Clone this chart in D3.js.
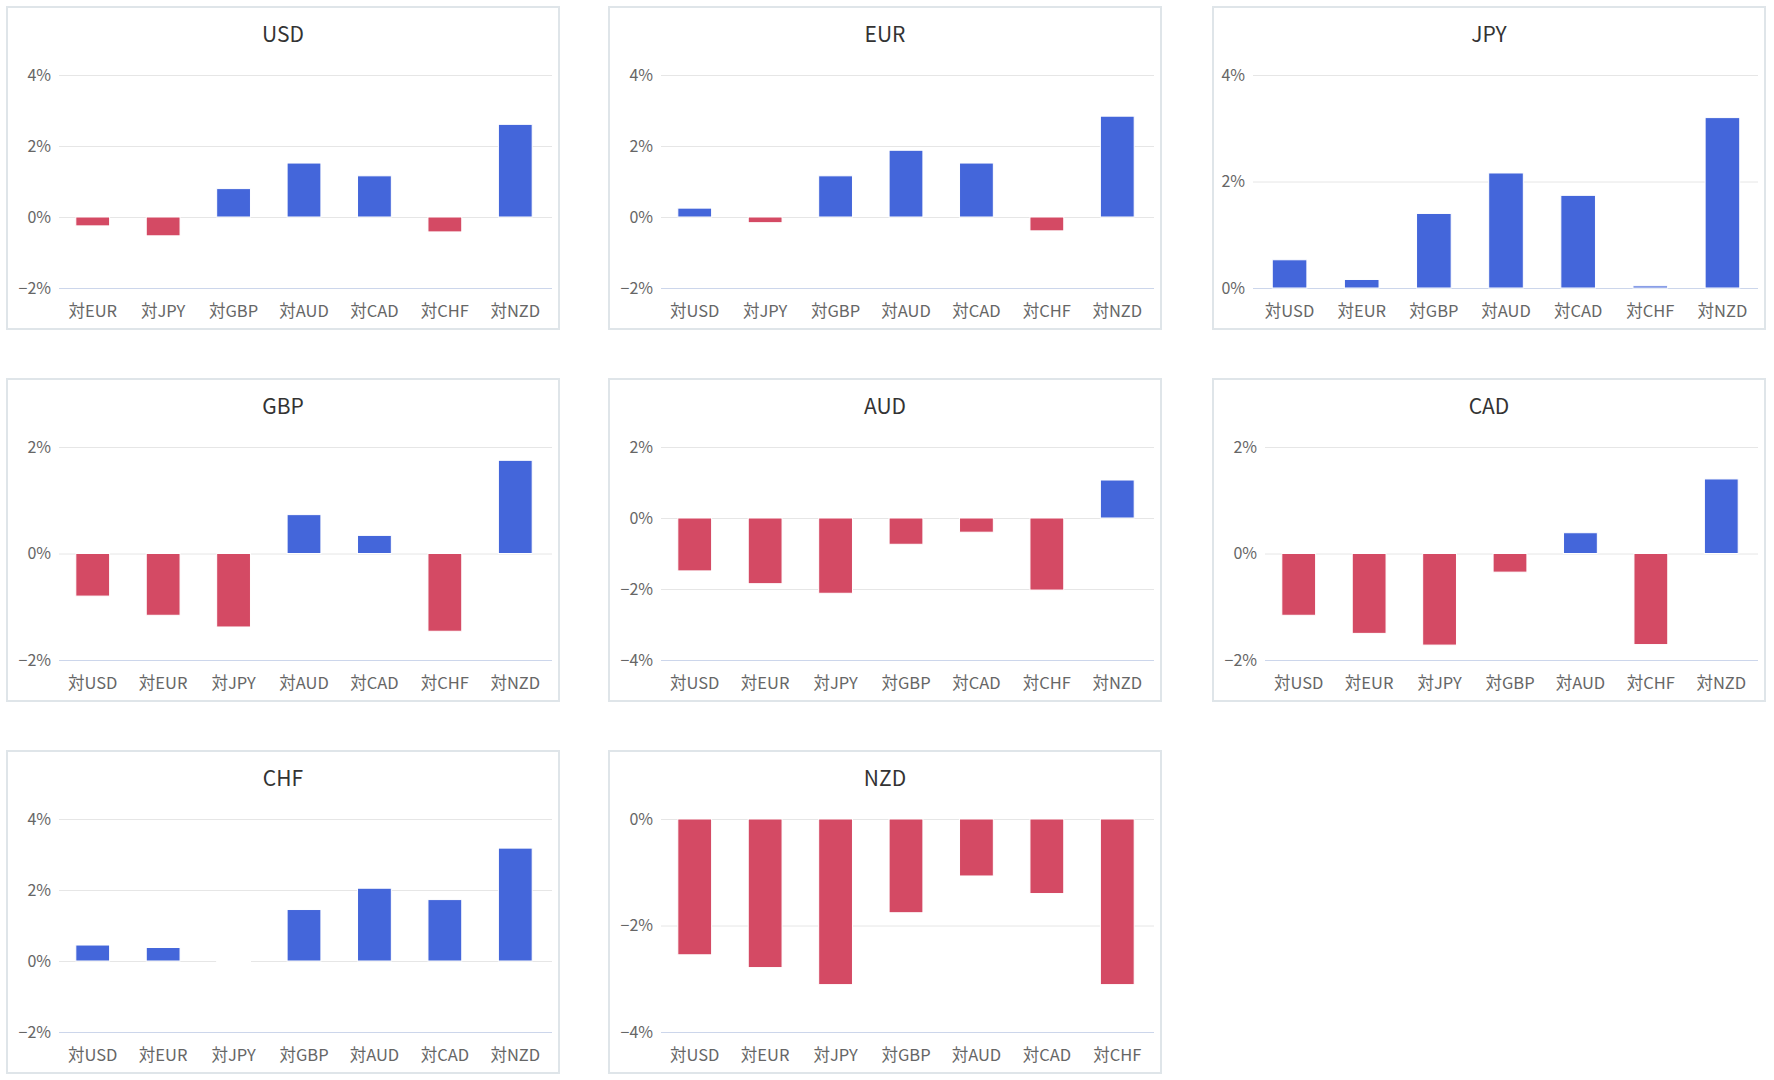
<!DOCTYPE html>
<html>
<head>
<meta charset="utf-8">
<script src="https://cdn.jsdelivr.net/npm/d3@7"></script>
<style>
  html, body { margin: 0; padding: 0; background: #ffffff; }
  svg { display: block; }
  text { font-family: "Noto Sans CJK JP", "Noto Sans", sans-serif; }
</style>
</head>
<body>
<svg id="chart" width="1774" height="1080"></svg>
<script>
// ---------- data ----------
const panelTitles = ["USD", "EUR", "JPY", "GBP", "AUD", "CAD", "CHF", "NZD"];

const usdCats = ["対EUR", "対JPY", "対GBP", "対AUD", "対CAD", "対CHF", "対NZD"];
const usdVals = [-0.25, -0.53, 0.80, 1.52, 1.16, -0.42, 2.61];
const usdTicks = [-2, 0, 2, 4];

const eurCats = ["対USD", "対JPY", "対GBP", "対AUD", "対CAD", "対CHF", "対NZD"];
const eurVals = [0.25, -0.16, 1.16, 1.88, 1.52, -0.39, 2.84];
const eurTicks = [-2, 0, 2, 4];

const jpyCats = ["対USD", "対EUR", "対GBP", "対AUD", "対CAD", "対CHF", "対NZD"];
const jpyVals = [0.53, 0.16, 1.40, 2.16, 1.74, 0.04, 3.20];
const jpyTicks = [0, 2, 4];

const gbpCats = ["対USD", "対EUR", "対JPY", "対AUD", "対CAD", "対CHF", "対NZD"];
const gbpVals = [-0.80, -1.16, -1.38, 0.73, 0.34, -1.46, 1.75];
const gbpTicks = [-2, 0, 2];

const audCats = ["対USD", "対EUR", "対JPY", "対GBP", "対CAD", "対CHF", "対NZD"];
const audVals = [-1.49, -1.85, -2.12, -0.74, -0.40, -2.03, 1.07];
const audTicks = [-4, -2, 0, 2];

const cadCats = ["対USD", "対EUR", "対JPY", "対GBP", "対AUD", "対CHF", "対NZD"];
const cadVals = [-1.16, -1.50, -1.72, -0.35, 0.39, -1.71, 1.40];
const cadTicks = [-2, 0, 2];

const chfCats = ["対USD", "対EUR", "対JPY", "対GBP", "対AUD", "対CAD", "対NZD"];
const chfVals = [0.45, 0.38, 0, 1.45, 2.05, 1.73, 3.18];
const chfTicks = [-2, 0, 2, 4];

const nzdCats = ["対USD", "対EUR", "対JPY", "対GBP", "対AUD", "対CAD", "対CHF"];
const nzdVals = [-2.55, -2.79, -3.11, -1.76, -1.07, -1.40, -3.11];
const nzdTicks = [-4, -2, 0];

const panels = [
  { title: panelTitles[0], cats: usdCats, vals: usdVals, ticks: usdTicks },
  { title: panelTitles[1], cats: eurCats, vals: eurVals, ticks: eurTicks },
  { title: panelTitles[2], cats: jpyCats, vals: jpyVals, ticks: jpyTicks },
  { title: panelTitles[3], cats: gbpCats, vals: gbpVals, ticks: gbpTicks },
  { title: panelTitles[4], cats: audCats, vals: audVals, ticks: audTicks },
  { title: panelTitles[5], cats: cadCats, vals: cadVals, ticks: cadTicks },
  { title: panelTitles[6], cats: chfCats, vals: chfVals, ticks: chfTicks },
  { title: panelTitles[7], cats: nzdCats, vals: nzdVals, ticks: nzdTicks }
];

// ---------- layout ----------
const colX = [7, 609, 1213];
const rowY = [7, 379, 751];
const panelW = 552, panelH = 322;
const plotR = panelW - 7, plotT = 68, plotB = 281;

const POS = "#4466DA", NEG = "#D44A64";

const svg = d3.select("#chart");
svg.append("rect").attr("width", 1774).attr("height", 1080).attr("fill", "#ffffff");

const fmt = d => (d < 0 ? "\u2212" : "") + Math.abs(d) + "%";

panels.forEach((p, i) => {
  const gx = colX[i % 3], gy = rowY[Math.floor(i / 3)];
  const g = svg.append("g").attr("transform", `translate(${gx},${gy})`);
  const hasNeg = d3.min(p.ticks) < 0;
  const plotL = hasNeg ? 52 : 40;
  const shift = hasNeg ? -1.5 : 0.5;

  g.append("rect")
    .attr("x", 0).attr("y", 0).attr("width", panelW).attr("height", panelH)
    .attr("fill", "#ffffff").attr("stroke", "#dfe5e9").attr("stroke-width", 2);

  g.append("text")
    .attr("x", panelW / 2).attr("y", 34.5)
    .attr("text-anchor", "middle")
    .attr("font-size", 21).attr("fill", "#333333")
    .text(p.title);

  const x = d3.scaleBand().domain(p.cats).range([plotL + shift, plotR + shift])
    .paddingInner(0.52).paddingOuter(0.26);
  const y = d3.scaleLinear().domain(d3.extent(p.ticks)).range([plotB, plotT]);

  // y axis with gridlines
  const yAxis = g.append("g").attr("transform", `translate(${plotL},0)`)
    .call(d3.axisLeft(y).tickValues(p.ticks).tickFormat(fmt)
      .tickSizeInner(-(plotR - plotL)).tickSizeOuter(0).tickPadding(8));
  yAxis.select(".domain").remove();
  yAxis.selectAll(".tick line").attr("stroke", "#e6e6e6").attr("stroke-width", 1);
  yAxis.selectAll(".tick text").attr("font-size", 16).attr("fill", "#666666")
    .attr("font-family", "\"Noto Sans CJK JP\", sans-serif");

  // bottom axis line
  g.append("line")
    .attr("x1", plotL).attr("x2", plotR)
    .attr("y1", plotB + 0.5).attr("y2", plotB + 0.5)
    .attr("stroke", "#ccd6eb").attr("stroke-width", 1);

  // bars
  g.append("g").selectAll("rect").data(p.vals).join("rect")
    .attr("x", (d, j) => x(p.cats[j]))
    .attr("width", x.bandwidth())
    .attr("y", d => d === 0 ? y(0) - 1 : Math.min(y(d), y(0)))
    .attr("height", d => d === 0 ? 2 : Math.max(1, Math.abs(y(d) - y(0))))
    .attr("fill", d => d === 0 ? "#ffffff" : (d > 0 ? POS : NEG))
    .attr("stroke", "#ffffff").attr("stroke-width", 1);

  // x axis labels
  const xAxis = g.append("g").attr("transform", `translate(0,${plotB})`)
    .call(d3.axisBottom(x).tickSize(0).tickPadding(17));
  xAxis.select(".domain").remove();
  xAxis.selectAll(".tick text").attr("font-size", 16.5).attr("fill", "#666666")
    .attr("font-family", "\"Noto Sans CJK JP\", sans-serif");
});
</script>
</body>
</html>
